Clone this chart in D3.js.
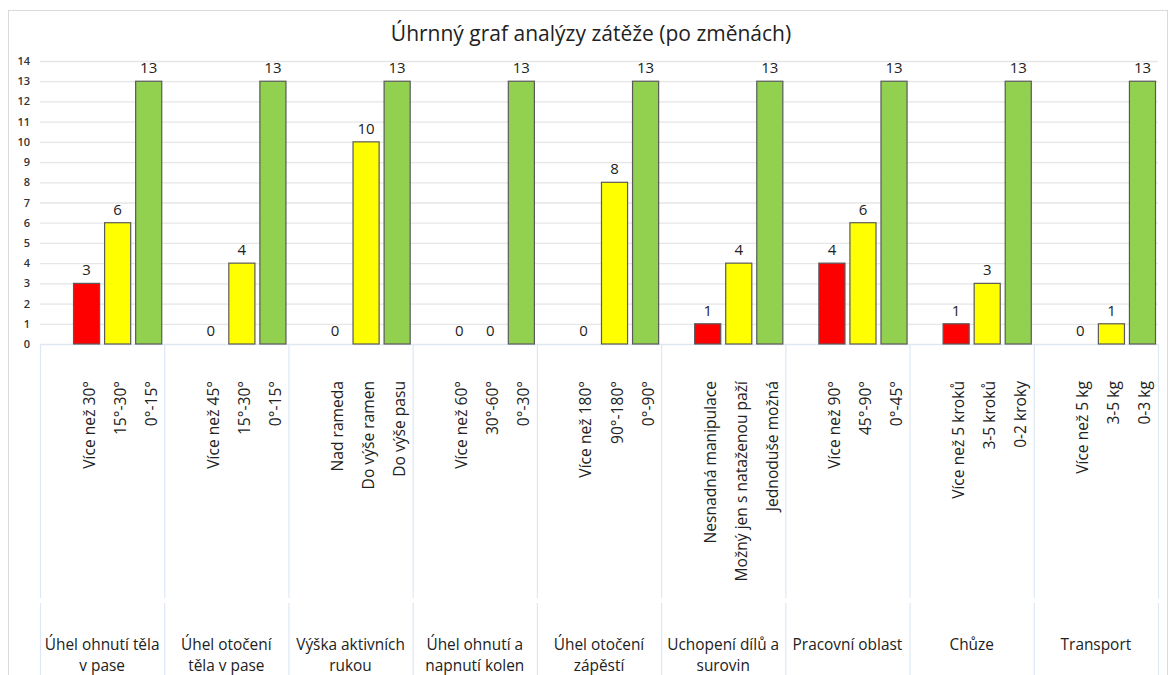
<!DOCTYPE html>
<html><head><meta charset="utf-8">
<script src="https://cdn.jsdelivr.net/npm/d3@7/dist/d3.min.js"></script>
<style>body{margin:0;background:#fff;} svg{display:block;font-family:"Open Sans","Noto Sans",sans-serif;}</style>
</head><body>
<script>
const title = "Úhrnný graf analýzy zátěže (po změnách)";
const groups = ["Úhel ohnutí těla v pase","Úhel otočení těla v pase","Výška aktivních rukou","Úhel ohnutí a napnutí kolen","Úhel otočení zápěstí","Uchopení dílů a surovin","Pracovní oblast","Chůze","Transport"];
const groupLines = [["Úhel ohnutí těla","v pase"],["Úhel otočení","těla v pase"],["Výška aktivních","rukou"],["Úhel ohnutí a","napnutí kolen"],["Úhel otočení","zápěstí"],["Uchopení dílů a","surovin"],["Pracovní oblast"],["Chůze"],["Transport"]];
const subLabels = [
 ["Více než 30°","15°-30°","0°-15°"],
 ["Více než 45°","15°-30°","0°-15°"],
 ["Nad rameda","Do výše ramen","Do výše pasu"],
 ["Více než 60°","30°-60°","0°-30°"],
 ["Více než 180°","90°-180°","0°-90°"],
 ["Nesnadná manipulace","Možný jen s nataženou paží","Jednoduše možná"],
 ["Více než 90°","45°-90°","0°-45°"],
 ["Více než 5 kroků","3-5 kroků","0-2 kroky"],
 ["Více než 5 kg","3-5 kg","0-3 kg"]];
const redValues = [3,0,0,0,0,1,4,1,0];
const yellowValues = [6,4,10,0,8,4,6,3,1];
const greenValues = [13,13,13,13,13,13,13,13,13];
const yTicks = [0,1,2,3,4,5,6,7,8,9,10,11,12,13,14];
const colors = ["#FF0000","#FFFF00","#92D050"];

const W=1170,H=675;
const svg=d3.select("body").append("svg").attr("width",W).attr("height",H);
const m={l:40,r:1158,t:61,b:344};
svg.append("rect").attr("x",8.5).attr("y",10.5).attr("width",1159).attr("height",H).attr("fill","#fff").attr("stroke","#d9d9d9");

svg.append("text").attr("x",591).attr("y",41).attr("text-anchor","middle").attr("font-size",21).attr("fill","#222").text(title);

const y=d3.scaleLinear().domain([0,14]).range([m.b,m.t]);
const x0=d3.scaleBand().domain(groups).range([m.l,m.r]);
const x1=d3.scaleBand().domain([0,1,2,3]).range([0,x0.bandwidth()]).paddingInner(0.16).paddingOuter(0.08);

// grid
svg.append("g").selectAll("line").data(yTicks).join("line")
 .attr("x1",m.l).attr("x2",m.r).attr("y1",d=>y(d)+0.5).attr("y2",d=>y(d)+0.5)
 .attr("stroke","#e6e6e6").attr("stroke-width",1.3);
const yAxis=svg.append("g").attr("transform",`translate(${m.l-10},0)`).call(d3.axisLeft(y).tickValues(yTicks).tickSize(0).tickPadding(0));
yAxis.select(".domain").remove();
yAxis.selectAll("text").attr("font-size",11).attr("font-weight","600").attr("fill","#333").attr("font-family","Open Sans");

// category area lines
const bounds=groups.map(g=>x0(g)).concat([m.r]);
svg.append("g").selectAll("line").data(bounds).join("line")
 .attr("x1",d=>d+0.5).attr("x2",d=>d+0.5).attr("y1",m.b).attr("y2",598).attr("stroke","#dde8f4").attr("stroke-width",1.2);
svg.append("g").selectAll("line").data(bounds).join("line")
 .attr("x1",d=>d+0.5).attr("x2",d=>d+0.5).attr("y1",603).attr("y2",H).attr("stroke","#dde8f4").attr("stroke-width",1.2);
svg.append("line").attr("x1",m.l).attr("x2",m.r).attr("y1",m.b+0.5).attr("y2",m.b+0.5).attr("stroke","#dde8f4").attr("stroke-width",1.2);

// bars
const series=[redValues,yellowValues,greenValues];
const data=[];
groups.forEach((g,i)=>series.forEach((s,j)=>data.push({g,i,j,v:s[i]})));
const bg=svg.append("g");
bg.selectAll("rect").data(data.filter(d=>d.v>0)).join("rect")
 .attr("x",d=>x0(d.g)+x1(d.j+1)).attr("width",x1.bandwidth())
 .attr("y",d=>y(d.v)).attr("height",d=>y(0)-y(d.v))
 .attr("fill",d=>colors[d.j]).attr("stroke","#5a5a5a").attr("stroke-width",1.2);
bg.selectAll("text").data(data).join("text")
 .attr("x",d=>x0(d.g)+x1(d.j+1)+x1.bandwidth()/2).attr("y",d=>y(d.v)-8)
 .attr("text-anchor","middle").attr("font-size",15).attr("fill","#222").text(d=>d.v);

// sub labels
const sl=svg.append("g");
groups.forEach((g,i)=>subLabels[i].forEach((t,j)=>{
  const cx=x0(g)+x1(j+1)+x1.bandwidth()/2;
  sl.append("text").attr("transform",`translate(${cx+8},381) rotate(-90)`)
   .attr("text-anchor","end").attr("font-size",15.6).attr("fill","#222").text(t);
}));
// group labels
const gl=svg.append("g");
groups.forEach((g,i)=>{
  const cx=x0(g)+x0.bandwidth()/2;
  groupLines[i].forEach((t,k)=>{
    gl.append("text").attr("x",cx).attr("y",650+k*21).attr("text-anchor","middle").attr("font-size",15.4).attr("fill","#222").text(t);
  });
});
</script>
</body></html>
